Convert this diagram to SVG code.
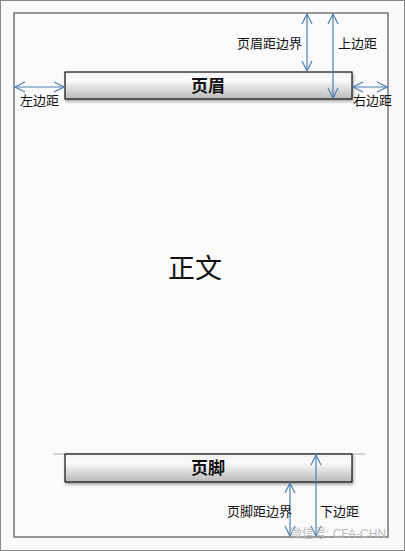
<svg xmlns="http://www.w3.org/2000/svg" width="405" height="551" viewBox="0 0 405 551">
<defs>
<style>
.lbl{font-family:"Liberation Sans","Noto Sans CJK SC",sans-serif;font-size:13px;fill:#111}
.box{fill:url(#g);stroke:#111;stroke-width:1.2}
.arr{stroke:#4f7fb3;stroke-width:1.2;fill:none;marker-start:url(#ah);marker-end:url(#ah)}
.ttl{font-family:"Liberation Sans","Noto Sans CJK SC",sans-serif;font-size:17px;font-weight:bold;fill:#111}
</style>
<linearGradient id="g" x1="0" y1="0" x2="0" y2="1">
<stop offset="0" stop-color="#f2f2f2"/>
<stop offset="0.3" stop-color="#fbfbfb"/>
<stop offset="1" stop-color="#b8b8b8"/>
</linearGradient>
<marker id="ah" viewBox="0 0 12 12" refX="11" refY="6" markerWidth="12" markerHeight="12" orient="auto-start-reverse" markerUnits="userSpaceOnUse">
<path d="M1,1 L11,6 L1,11" fill="none" stroke="#4f7fb3" stroke-width="1.2"/>
</marker>
<filter id="sh" x="-5%" y="-20%" width="110%" height="160%">
<feDropShadow dx="1" dy="2" stdDeviation="1.5" flood-color="#000" flood-opacity="0.35"/>
</filter>
</defs>
<rect x="0.5" y="0.5" width="404" height="550" fill="#fafafa" stroke="#888"/>
<rect id="page" x="14" y="13" width="374" height="524" fill="#fbfbfb" stroke="#777" stroke-width="1.5"/>
<line x1="53" y1="454" x2="365" y2="454" stroke="#aaa" stroke-width="1"/>
<g id="header">
<rect class="box" x="65" y="72" width="287" height="27" filter="url(#sh)"/>
<text class="ttl" x="208" y="92" text-anchor="middle">页眉</text>
</g>
<g id="footer">
<rect class="box" x="65" y="454" width="287" height="28" filter="url(#sh)"/>
<text class="ttl" x="208" y="474" text-anchor="middle">页脚</text>
</g>
<g id="body">
<text x="195" y="278" text-anchor="middle" style="font-family:'Noto Sans CJK SC',sans-serif;font-size:27px;fill:#111">正文</text>
</g>
<g id="connectors">
<line class="arr" x1="307" y1="14" x2="307" y2="71"/>
<line class="arr" x1="333" y1="14" x2="333" y2="98"/>
<line class="arr" x1="15" y1="87" x2="64" y2="87"/>
<line class="arr" x1="353" y1="87" x2="387" y2="87"/>
<line class="arr" x1="290" y1="483" x2="290" y2="536"/>
<line class="arr" x1="316" y1="455" x2="316" y2="536"/>
</g>
<g id="labels">
<text class="lbl" x="302" y="48" text-anchor="end">页眉距边界</text>
<text class="lbl" x="338" y="48">上边距</text>
<text class="lbl" x="20" y="105">左边距</text>
<text class="lbl" x="353" y="105">右边距</text>
<text class="lbl" x="292" y="516" text-anchor="end">页脚距边界</text>
<text class="lbl" x="320" y="516">下边距</text>
<text x="290" y="538" style="font-family:'Liberation Sans','Noto Sans CJK SC',sans-serif;font-size:12px;fill:#bbb">微信号: CFA-CHN</text>
</g>
</svg>
